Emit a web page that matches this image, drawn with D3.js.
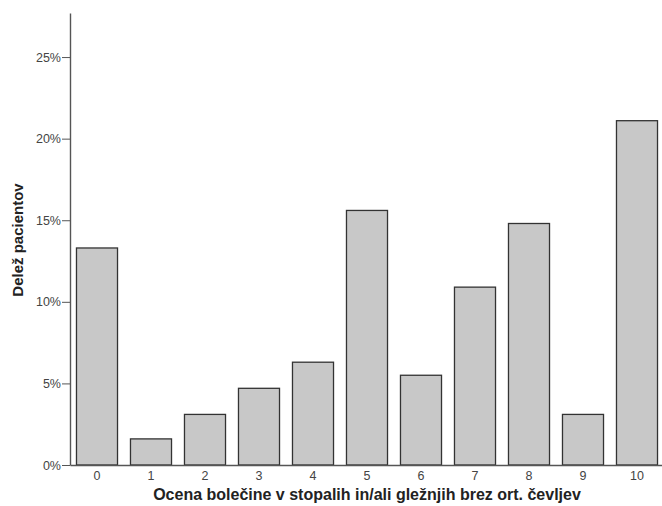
<!DOCTYPE html>
<html>
<head>
<meta charset="utf-8">
<script src="https://cdn.jsdelivr.net/npm/d3@7"></script>
<style>
  body { margin: 0; background: #fff; }
  svg text { font-family: "Liberation Sans", Arial, sans-serif; }
</style>
</head>
<body>
<div id="chart"></div>
<script>
const categories = ["0", "1", "2", "3", "4", "5", "6", "7", "8", "9", "10"];
const shares = [13.3, 1.6, 3.1, 4.7, 6.3, 15.6, 5.5, 10.9, 14.8, 3.1, 21.1];
const yTicks = [0, 5, 10, 15, 20, 25];

const width = 662, height = 506;
const margin = { top: 13, left: 70, bottom: 41, right: -2 };
const iwidth = width - margin.left - margin.right;
const iheight = height - margin.top - margin.bottom;

const svg = d3.select("#chart").append("svg")
  .attr("width", width)
  .attr("height", height);

const g = svg.append("g")
  .attr("transform", `translate(${margin.left},${margin.top})`);

const y = d3.scaleLinear()
  .domain([0, 27.7])
  .range([iheight, 0]);

const x = d3.scaleBand()
  .domain(categories)
  .range([0, iwidth])
  .paddingInner(0.24)
  .paddingOuter(0.12);

g.selectAll("rect.bar")
  .data(shares)
  .enter()
  .append("rect")
  .attr("class", "bar")
  .attr("x", (d, i) => x(categories[i]))
  .attr("y", d => y(d))
  .attr("width", x.bandwidth())
  .attr("height", d => iheight - y(d))
  .style("fill", "#c8c8c8")
  .style("stroke", "#333")
  .style("stroke-width", 1.3);

// y axis
const yAxis = g.append("g")
  .call(d3.axisLeft(y).tickValues(yTicks).tickFormat(d => d + "%").tickSize(8).tickSizeOuter(0));
yAxis.select(".domain").attr("stroke", "#555").attr("stroke-width", 1.4);
yAxis.selectAll(".tick line").attr("stroke", "#555");
yAxis.selectAll(".tick text").attr("fill", "#444").style("font-size", "12.5px").attr("x", -9);

// x axis
const xAxis = g.append("g")
  .attr("transform", `translate(0,${iheight})`)
  .call(d3.axisBottom(x).tickSize(0).tickSizeOuter(0));
xAxis.select(".domain").attr("stroke", "#555").attr("stroke-width", 1.4);
xAxis.selectAll(".tick text").attr("fill", "#444").style("font-size", "12.5px").attr("dy", "0.71em").attr("y", 6);

svg.append("text")
  .attr("x", 367)
  .attr("y", 500)
  .attr("text-anchor", "middle")
  .style("font-size", "16px")
  .style("font-weight", "bold")
  .attr("fill", "#222")
  .text("Ocena bolečine v stopalih in/ali gležnjih brez ort. čevljev");

svg.append("text")
  .attr("transform", "translate(23,240) rotate(-90)")
  .attr("text-anchor", "middle")
  .style("font-size", "15px")
  .style("font-weight", "bold")
  .attr("fill", "#222")
  .text("Delež pacientov");
</script>
</body>
</html>
